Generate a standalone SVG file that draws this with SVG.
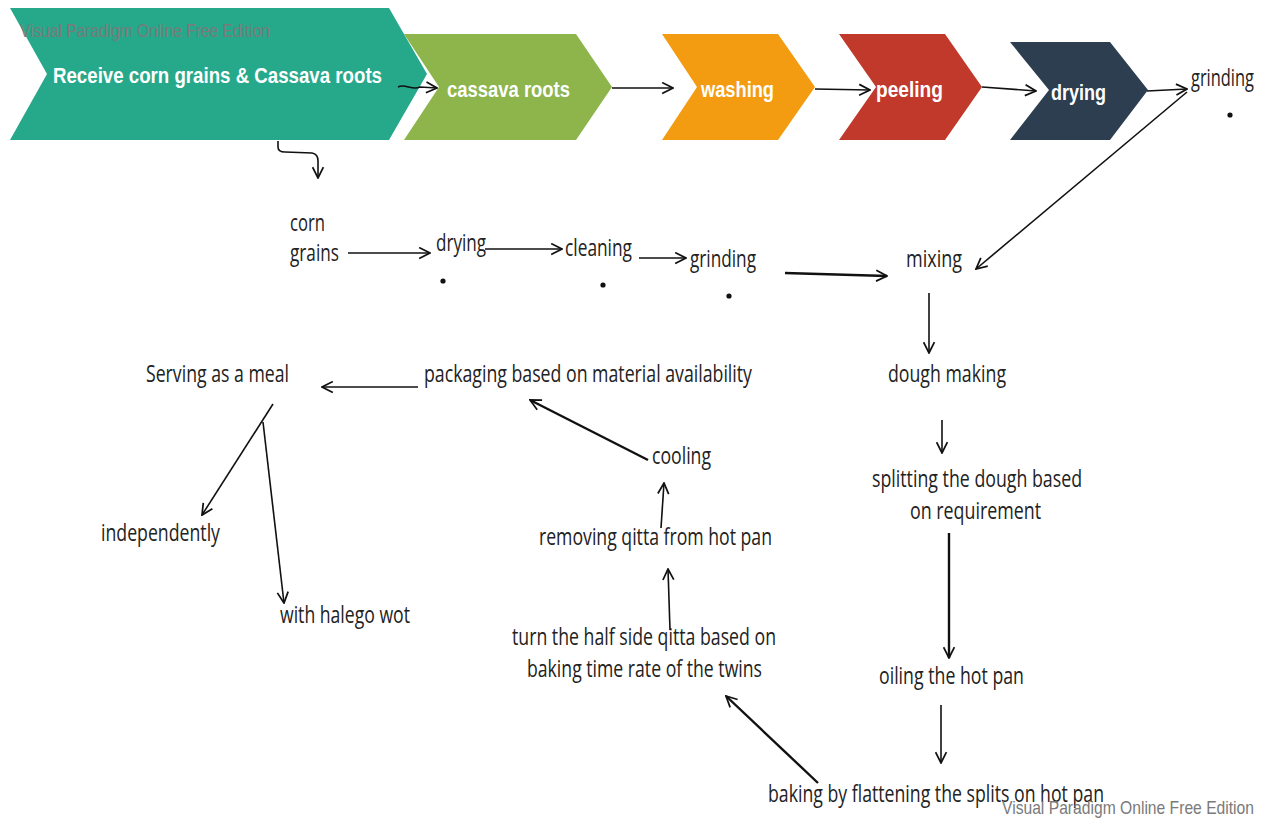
<svg xmlns="http://www.w3.org/2000/svg" width="1267" height="820" viewBox="0 0 1267 820">
<defs>
<marker id="ah" viewBox="0 0 12 12" refX="11" refY="6" markerWidth="13" markerHeight="13" markerUnits="userSpaceOnUse" orient="auto">
<path d="M1,1 L11,6 L1,11" fill="none" stroke="#111" stroke-width="1.6"/>
</marker>
</defs>
<style>
.chev{stroke:none}
.ct{font-family:"Liberation Sans",Arial,sans-serif;font-weight:bold;font-size:22px;fill:#fff}
.lb{font-family:"Open Sans","Liberation Sans",sans-serif;font-size:23px;fill:#222}
.wm{font-family:"Liberation Sans",Arial,sans-serif;font-size:19px;fill:#7a7a7a}
.cn{fill:none;stroke:#111;stroke-width:1.6;marker-end:url(#ah)}
.th{stroke-width:2.4}
</style>
<rect width="1267" height="820" fill="#fff"/>

<g id="n-receive">
<polygon class="chev" fill="#26A98B" points="10,8 389,8 427,74 389,140 10,140 47,74"/>
<text class="ct" x="53" y="83" textLength="329" lengthAdjust="spacingAndGlyphs">Receive corn grains &amp; Cassava roots</text>
</g>
<g id="n-cassava">
<polygon class="chev" fill="#8DB54B" points="404,34 576,34 612,87 576,140 404,140 439,87"/>
<text class="ct" x="447" y="97" textLength="123" lengthAdjust="spacingAndGlyphs">cassava roots</text>
</g>
<g id="n-washing">
<polygon class="chev" fill="#F39C12" points="662,34 778,34 815,87 778,140 662,140 697,87"/>
<text class="ct" x="701" y="97" textLength="73" lengthAdjust="spacingAndGlyphs">washing</text>
</g>
<g id="n-peeling">
<polygon class="chev" fill="#C0392B" points="839,34 945,34 982,87 945,140 839,140 876,87"/>
<text class="ct" x="876" y="97" textLength="67" lengthAdjust="spacingAndGlyphs">peeling</text>
</g>
<g id="n-drying-top">
<polygon class="chev" fill="#2C3E50" points="1010,42 1110,42 1148,90 1110,140 1010,140 1049,90"/>
<text class="ct" x="1051" y="100" textLength="55" lengthAdjust="spacingAndGlyphs">drying</text>
</g>
<g id="n-grinding-top">
<text class="lb" x="1191" y="86" textLength="63" lengthAdjust="spacingAndGlyphs">grinding</text>
<circle cx="1230" cy="115" r="2.6" fill="#111"/>
</g>

<g id="n-corn">
<text class="lb" x="290" y="231" textLength="35" lengthAdjust="spacingAndGlyphs">corn</text>
<text class="lb" x="290" y="261" textLength="49" lengthAdjust="spacingAndGlyphs">grains</text>
</g>
<g id="n-drying">
<text class="lb" x="436" y="251" textLength="50" lengthAdjust="spacingAndGlyphs">drying</text>
<circle cx="443" cy="281" r="2.6" fill="#111"/>
</g>
<g id="n-cleaning">
<text class="lb" x="565" y="256" textLength="67" lengthAdjust="spacingAndGlyphs">cleaning</text>
<circle cx="603" cy="285" r="2.6" fill="#111"/>
</g>
<g id="n-grinding">
<text class="lb" x="690" y="267" textLength="66" lengthAdjust="spacingAndGlyphs">grinding</text>
<circle cx="729" cy="296" r="2.6" fill="#111"/>
</g>
<g id="n-mixing">
<text class="lb" x="906" y="267" textLength="56" lengthAdjust="spacingAndGlyphs">mixing</text>
</g>
<g id="n-dough">
<text class="lb" x="888" y="382" textLength="118" lengthAdjust="spacingAndGlyphs">dough making</text>
</g>
<g id="n-splitting">
<text class="lb" x="872" y="487" textLength="210" lengthAdjust="spacingAndGlyphs">splitting the dough based</text>
<text class="lb" x="910" y="519" textLength="131" lengthAdjust="spacingAndGlyphs">on requirement</text>
</g>
<g id="n-oiling">
<text class="lb" x="879" y="684" textLength="145" lengthAdjust="spacingAndGlyphs">oiling the hot pan</text>
</g>
<g id="n-baking">
<text class="lb" x="768" y="802" textLength="336" lengthAdjust="spacingAndGlyphs">baking by flattening the splits on hot pan</text>
</g>
<g id="n-turn">
<text class="lb" x="512" y="645" textLength="264" lengthAdjust="spacingAndGlyphs">turn the half side qitta based on</text>
<text class="lb" x="527" y="677" textLength="235" lengthAdjust="spacingAndGlyphs">baking time rate of the twins</text>
</g>
<g id="n-removing">
<text class="lb" x="539" y="545" textLength="233" lengthAdjust="spacingAndGlyphs">removing qitta from hot pan</text>
</g>
<g id="n-cooling">
<text class="lb" x="652" y="464" textLength="59" lengthAdjust="spacingAndGlyphs">cooling</text>
</g>
<g id="n-packaging">
<text class="lb" x="424" y="382" textLength="328" lengthAdjust="spacingAndGlyphs">packaging based on material availability</text>
</g>
<g id="n-serving">
<text class="lb" x="146" y="382" textLength="143" lengthAdjust="spacingAndGlyphs">Serving as a meal</text>
</g>
<g id="n-independently">
<text class="lb" x="101" y="541" textLength="119" lengthAdjust="spacingAndGlyphs">independently</text>
</g>
<g id="n-halego">
<text class="lb" x="280" y="623" textLength="130" lengthAdjust="spacingAndGlyphs">with halego wot</text>
</g>

<g id="connectors">
<path class="cn" d="M398,87 C405,83 412,91 420,87 L437,88"/>
<path class="cn" d="M612,88 L673,88"/>
<path class="cn" d="M815,89 L870,90"/>
<path class="cn" d="M982,87 L1036,91"/>
<path class="cn" d="M1147,91 L1187,89"/>
<path class="cn" d="M1187,92 L976,269"/>
<path class="cn" d="M278,141 L278,147 Q278,152 285,152 L312,153 Q318,154 318,161 L318,178"/>
<path class="cn" d="M348,253 L430,253"/>
<path class="cn" d="M485,249 L562,249"/>
<path class="cn" d="M639,258 L686,258"/>
<path class="cn th" d="M785,273 L887,276"/>
<path class="cn" d="M929,293 L929,353"/>
<path class="cn" d="M942,420 L942,453"/>
<path class="cn th" d="M949,533 L949,658"/>
<path class="cn" d="M941,705 L941,763"/>
<path class="cn th" d="M818,783 L726,696"/>
<path class="cn" d="M670,630 L668,569"/>
<path class="cn" d="M661,528 L664,483"/>
<path class="cn th" d="M648,460 L530,400"/>
<path class="cn" d="M418,387 L322,387"/>
<path class="cn" d="M273,404 L202,515"/>
<path class="cn" d="M263,422 L284,603"/>
</g>

<text class="wm" x="20" y="37" textLength="250" lengthAdjust="spacingAndGlyphs">Visual Paradigm Online Free Edition</text>
<text class="wm" x="1002" y="814" textLength="252" lengthAdjust="spacingAndGlyphs">Visual Paradigm Online Free Edition</text>
</svg>
